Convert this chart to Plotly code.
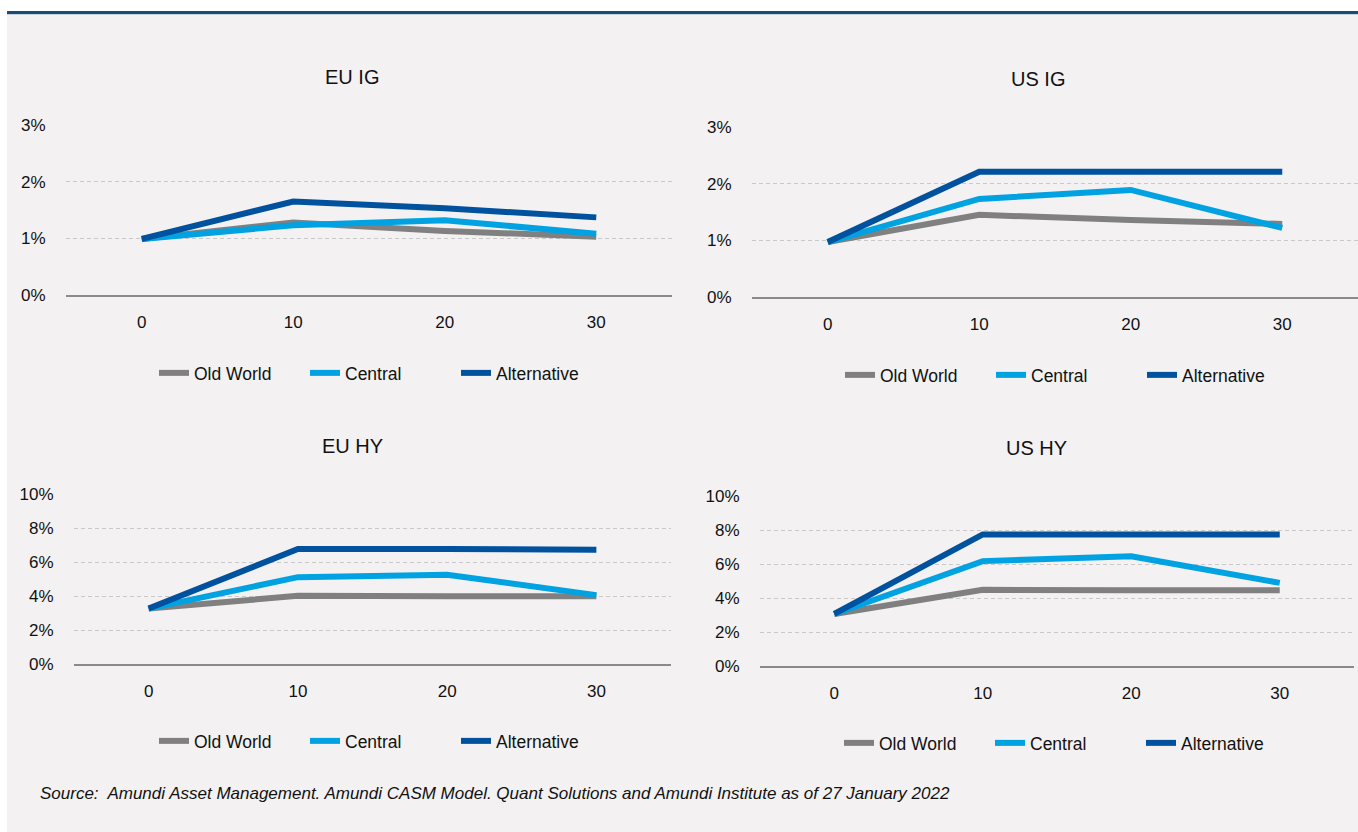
import plotly.graph_objects as go

# ---------------- data ----------------
horizons = [0, 10, 20, 30]
x_labels = ["0", "10", "20", "30"]
series_names = ["Old World", "Central", "Alternative"]

eu_ig_old = [0.99, 1.28, 1.13, 1.03]
eu_ig_central = [0.99, 1.23, 1.32, 1.08]
eu_ig_alt = [0.99, 1.65, 1.53, 1.37]

us_ig_old = [0.97, 1.45, 1.36, 1.29]
us_ig_central = [0.97, 1.73, 1.89, 1.22]
us_ig_alt = [0.97, 2.21, 2.21, 2.21]

eu_hy_old = [3.26, 4.01, 3.98, 3.99]
eu_hy_central = [3.26, 5.11, 5.25, 4.05]
eu_hy_alt = [3.26, 6.76, 6.76, 6.72]

us_hy_old = [3.06, 4.48, 4.45, 4.46]
us_hy_central = [3.06, 6.17, 6.46, 4.89]
us_hy_alt = [3.06, 7.74, 7.74, 7.74]

ig_ticks = [0, 1, 2, 3]
hy_ticks = [0, 2, 4, 6, 8, 10]

panel_titles = ["EU IG", "US IG", "EU HY", "US HY"]
source_text = ("Source:  Amundi Asset Management. Amundi CASM Model. Quant Solutions "
               "and Amundi Institute as of 27 January 2022")

# ---------------- style ----------------
W, H = 1358, 832
FONT = "Liberation Sans, Arial, sans-serif"
colors = {"Old World": "#808080", "Central": "#00A2E1", "Alternative": "#00519E"}
BG = "#F3F1F2"
TXT = "#111111"


def xd(a, b):
    return [a / W, b / W]


def yd(top, bottom):
    return [1 - bottom / H, 1 - top / H]


panels = [
    # data, ticks, x-domain px, y-domain px (top,bottom), title pos, legend text start / centre y
    ([eu_ig_old, eu_ig_central, eu_ig_alt], ig_ticks, (66, 672), (125, 295), (352, 77), (195, 373)),
    ([us_ig_old, us_ig_central, us_ig_alt], ig_ticks, (752, 1358), (127, 297), (1038, 79), (881, 375)),
    ([eu_hy_old, eu_hy_central, eu_hy_alt], hy_ticks, (74, 671), (494, 664), (352, 446), (195, 741)),
    ([us_hy_old, us_hy_central, us_hy_alt], hy_ticks, (760, 1354), (496, 666), (1036, 448), (880, 743)),
]

fig = go.Figure()
layout = {}
annotations = []

for i, (data, ticks, xdom, ydom, tpos, lpos) in enumerate(panels):
    n = "" if i == 0 else str(i + 1)
    leg = "legend" + n
    for name, vals in zip(series_names, data):
        fig.add_trace(go.Scatter(
            x=horizons, y=vals, name=name, mode="lines",
            line=dict(color=colors[name], width=6),
            xaxis="x" + n, yaxis="y" + n, legend=leg,
            hoverinfo="x+y+name",
        ))
    layout["xaxis" + n] = dict(
        domain=xd(*xdom), anchor="y" + n,
        range=[-5, 35], tickvals=horizons, ticktext=x_labels,
        showgrid=False, zeroline=False,
        showline=True, linecolor="#8A8A8A", linewidth=1.5,
        ticks="outside", ticklen=11, tickcolor="rgba(0,0,0,0)",
        tickfont=dict(family=FONT, size=17, color=TXT),
        fixedrange=True,
    )
    layout["yaxis" + n] = dict(
        domain=yd(*ydom), anchor="x" + n,
        range=[0, ticks[-1]], tickvals=ticks, ticktext=[f"{t}%" for t in ticks],
        showgrid=True, gridcolor="#C9C9C9", gridwidth=1, griddash="4px,3px",
        zeroline=False, showline=False,
        ticks="outside", ticklen=16, tickcolor="rgba(0,0,0,0)",
        tickfont=dict(family=FONT, size=17, color=TXT),
        fixedrange=True,
    )
    layout[leg] = dict(
        orientation="h", x=(lpos[0] - 41) / W, y=1 - lpos[1] / H,
        xanchor="left", yanchor="middle",
        bgcolor="rgba(0,0,0,0)", entrywidth=106, entrywidthmode="pixels",
        font=dict(family=FONT, size=17.5, color=TXT),
        itemclick=False, itemdoubleclick=False,
    )
    annotations.append(dict(
        text=panel_titles[i], x=tpos[0] / W, y=1 - tpos[1] / H, xref="paper", yref="paper",
        xanchor="center", yanchor="middle", showarrow=False,
        font=dict(family=FONT, size=20, color=TXT),
    ))

annotations.append(dict(
    text="<i>" + source_text + "</i>", x=38 / W, y=1 - 793 / H, xref="paper", yref="paper",
    xanchor="left", yanchor="middle", showarrow=False,
    font=dict(family=FONT, size=17, color=TXT),
))

shapes = [
    dict(type="rect", xref="paper", yref="paper", x0=7 / W, x1=1, y0=0, y1=1 - 14 / H,
         fillcolor=BG, line=dict(width=0), layer="below"),
    dict(type="rect", xref="paper", yref="paper", x0=7 / W, x1=1, y0=1 - 14 / H, y1=1 - 11 / H,
         fillcolor="#1B4A74", line=dict(width=0), layer="below"),
    dict(type="rect", xref="paper", yref="paper", x0=7 / W, x1=1, y0=1 - 15 / H, y1=1 - 14 / H,
         fillcolor="#C9D3DE", line=dict(width=0), layer="below"),
]

fig.update_layout(
    width=W, height=H, margin=dict(l=0, r=0, t=0, b=0, autoexpand=False),
    paper_bgcolor="white", plot_bgcolor="rgba(0,0,0,0)",
    font=dict(family=FONT, size=17, color=TXT),
    annotations=annotations, shapes=shapes, showlegend=True,
    **layout,
)

fig.write_html(
    "out.html",
    config={"displayModeBar": False},
    post_script="document.body.style.margin='0';document.body.style.overflow='hidden';",
)
